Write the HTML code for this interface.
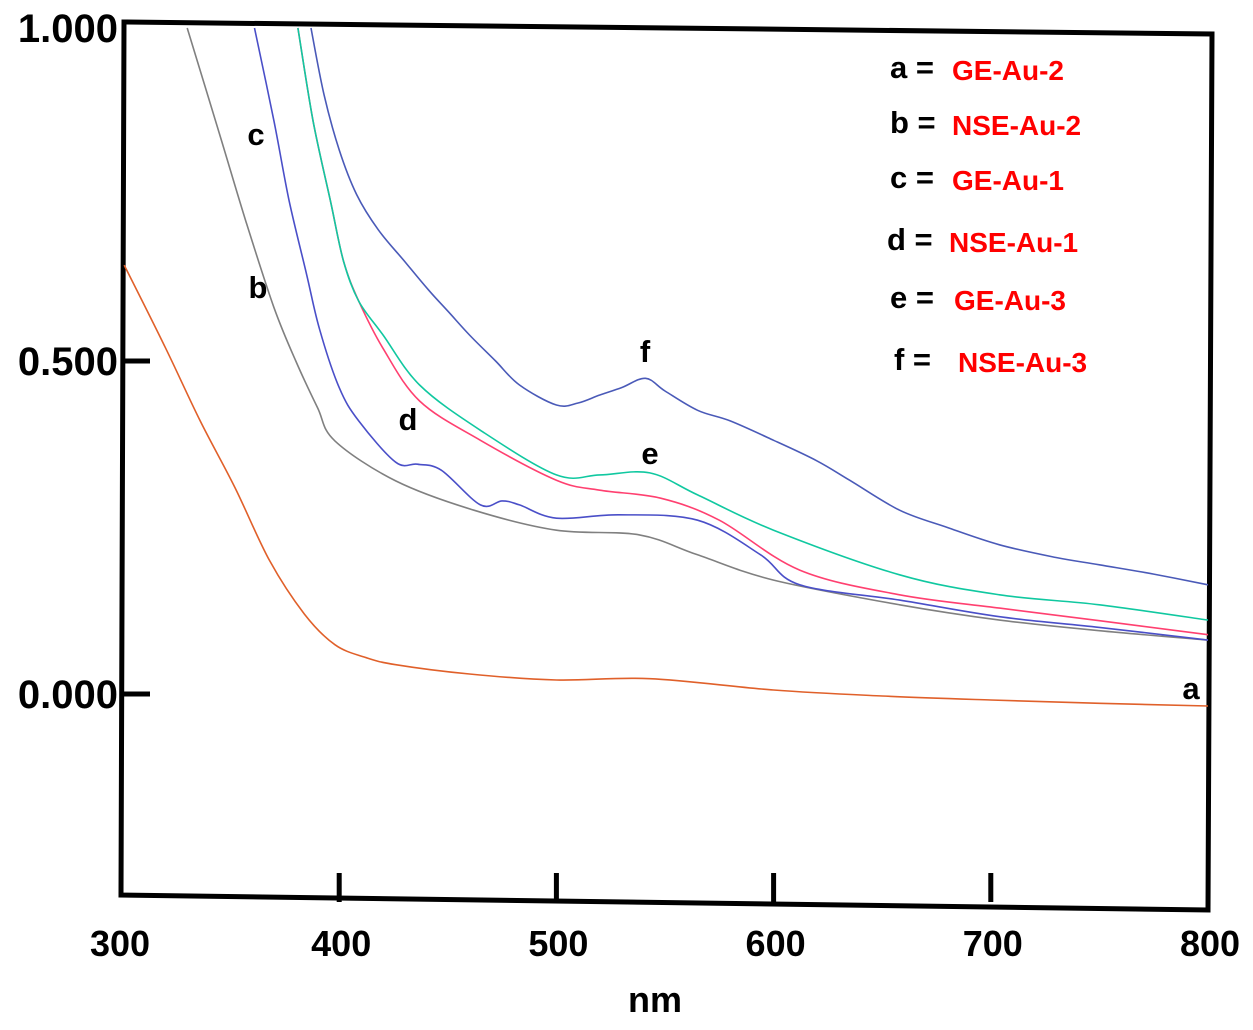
<!DOCTYPE html>
<html><head><meta charset="utf-8"><style>
body{margin:0;background:#fff;}
svg{display:block;font-family:"Liberation Sans",sans-serif;font-weight:bold;}
</style></head><body>
<svg id="chart" width="1253" height="1030" viewBox="0 0 1253 1030">
<g id="frame">
<polygon points="124,22 1212,34 1208,910 121,895" fill="none" stroke="#000" stroke-width="5"/>
</g>
<g id="ticks"></g>
<g id="series"></g>
<g id="labels"></g>
<text x="655" y="1012" font-size="36" text-anchor="middle">nm</text>
<g font-size="31">
<text x="256" y="145" text-anchor="middle">c</text>
<text x="258" y="298" text-anchor="middle">b</text>
<text x="408" y="430" text-anchor="middle">d</text>
<text x="645" y="362" text-anchor="middle">f</text>
<text x="650" y="464" text-anchor="middle">e</text>
<text x="1191" y="699" text-anchor="middle">a</text>
</g>
<g font-size="28">
<g><text x="890" y="78" fill="#000" font-size="31">a =</text><text x="952" y="80" fill="#f00">GE-Au-2</text></g>
<g><text x="890" y="133" fill="#000" font-size="31">b =</text><text x="952" y="135" fill="#f00">NSE-Au-2</text></g>
<g><text x="890" y="188" fill="#000" font-size="31">c =</text><text x="952" y="190" fill="#f00">GE-Au-1</text></g>
<g><text x="887" y="250" fill="#000" font-size="31">d =</text><text x="949" y="252" fill="#f00">NSE-Au-1</text></g>
<g><text x="890" y="308" fill="#000" font-size="31">e =</text><text x="954" y="310" fill="#f00">GE-Au-3</text></g>
<g><text x="894" y="370" fill="#000" font-size="31">f  =</text><text x="958" y="372" fill="#f00">NSE-Au-3</text></g>
</g>
</svg>
<script>
const xTicks=[300,400,500,600,700,800];
const yTicks=[1.0,0.5,0.0];
const yTickLabels=["1.000","0.500","0.000"];
const aX=[301,320,336,352,368,384,398,412,426,460,500,543,600,650,700,750,800];
const aY=[0.644,0.52,0.41,0.31,0.20,0.12,0.074,0.055,0.044,0.03,0.021,0.023,0.006,-0.003,-0.009,-0.014,-0.018];
const bX=[330,345,357,370,380,390,398,426,462,500,538,565,600,658,704,750,800];
const bY=[1.0,0.84,0.71,0.58,0.50,0.43,0.38,0.32,0.276,0.246,0.239,0.209,0.171,0.134,0.111,0.095,0.081];
const cX=[361,370,377,385,391,400,409,426,436,447,465,475,483,500,529,565,594,612,658,704,750,800];
const cY=[1.0,0.86,0.74,0.63,0.547,0.46,0.41,0.348,0.345,0.336,0.284,0.29,0.284,0.264,0.269,0.261,0.209,0.164,0.141,0.116,0.10,0.081];
const dX=[381,388,396,402,409,420,437,465,500,520,548,575,612,658,704,750,800];
const dY=[1.0,0.86,0.74,0.65,0.59,0.52,0.44,0.381,0.321,0.306,0.294,0.261,0.186,0.149,0.129,0.11,0.089];
const eX=[381,388,396,402,409,420,437,465,500,520,543,565,600,658,704,750,800];
const eY=[1.0,0.86,0.74,0.65,0.59,0.54,0.464,0.396,0.329,0.329,0.332,0.299,0.246,0.179,0.149,0.134,0.111];
const fX=[387,393,400,408,418,430,441,450,460,472,483,500,510,520,530,541,550,565,580,600,620,635,658,680,704,730,750,775,800];
const fY=[1.0,0.9,0.817,0.75,0.697,0.65,0.607,0.575,0.539,0.5,0.464,0.434,0.437,0.449,0.46,0.474,0.455,0.426,0.41,0.381,0.35,0.321,0.276,0.25,0.224,0.205,0.194,0.18,0.164];
const colors={a:"#e0602a",b:"#808080",c:"#4a4fc8",d:"#ff4070",e:"#10c8a0",f:"#4a5ab8"};
const sx=v=>122+(v-300)*2.172;
const sy=v=>694-v*666;
const NS="http://www.w3.org/2000/svg";
function smooth(pts){
  let d='M'+pts[0][0].toFixed(1)+','+pts[0][1].toFixed(1);
  for(let i=0;i<pts.length-1;i++){
    const p0=pts[i-1]||pts[i],p1=pts[i],p2=pts[i+1],p3=pts[i+2]||p2;
    const c1=[p1[0]+(p2[0]-p0[0])/6,p1[1]+(p2[1]-p0[1])/6];
    const c2=[p2[0]-(p3[0]-p1[0])/6,p2[1]-(p3[1]-p1[1])/6];
    d+='C'+c1.map(v=>v.toFixed(1))+' '+c2.map(v=>v.toFixed(1))+' '+p2[0].toFixed(1)+','+p2[1].toFixed(1);
  }
  return d;
}
const series=document.getElementById('series');
[["a",aX,aY],["b",bX,bY],["c",cX,cY],["d",dX,dY],["e",eX,eY],["f",fX,fY]].forEach(([k,xs,ys])=>{
  const p=document.createElementNS(NS,'path');
  
  
  p.setAttribute('d',smooth(xs.map((x,i)=>[sx(x),Math.max(24,sy(ys[i]))])));
  p.setAttribute('fill','none');p.setAttribute('stroke',colors[k]);p.setAttribute('stroke-width','1.6');
  series.appendChild(p);
});
const ticks=document.getElementById('ticks'),labels=document.getElementById('labels');
xTicks.forEach(t=>{
  if(t>300&&t<800){
    const l=document.createElementNS(NS,'line');
    
    
    const x=sx(t);l.setAttribute('x1',x);l.setAttribute('x2',x);l.setAttribute('y1',873);l.setAttribute('y2',902);
    l.setAttribute('stroke','#000');l.setAttribute('stroke-width','5');ticks.appendChild(l);
  }
  const tx=document.createElementNS(NS,'text');
  
  
  tx.setAttribute('x',sx(t)+(t==300?-2:2));tx.setAttribute('y',956);tx.setAttribute('font-size','36');tx.setAttribute('text-anchor','middle');
  tx.textContent=String(t);labels.appendChild(tx);
});
yTicks.forEach((t,i)=>{
  if(t<1){
    const l=document.createElementNS(NS,'line');
    
    
    l.setAttribute('x1',122);l.setAttribute('x2',150);l.setAttribute('y1',sy(t));l.setAttribute('y2',sy(t));
    l.setAttribute('stroke','#000');l.setAttribute('stroke-width','5');ticks.appendChild(l);
  }
  const tx=document.createElementNS(NS,'text');
  
  
  tx.setAttribute('x',118);tx.setAttribute('y',sy(t)+14);tx.setAttribute('font-size','40');tx.setAttribute('text-anchor','end');
  tx.textContent=yTickLabels[i];labels.appendChild(tx);
});
</script>
</body></html>
